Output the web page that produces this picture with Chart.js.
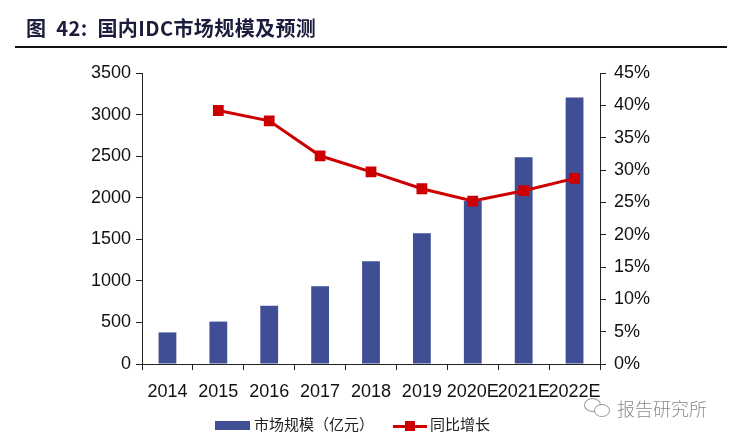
<!DOCTYPE html>
<html>
<head>
<meta charset="utf-8">
<script src="https://cdn.jsdelivr.net/npm/chart.js@4/dist/chart.umd.min.js"></script>
<style>
  body { margin: 0; background: #fff; }
  #wrap { position: relative; width: 730px; height: 439px; overflow: hidden; }
  #title { position: absolute; left: 26px; top: 13px; font-family: "Noto Sans CJK SC", sans-serif; font-weight: bold; font-size: 20px; color: #1c1c3c; letter-spacing: 0.4px; white-space: nowrap; }
  #rule { position: absolute; left: 15px; top: 46px; width: 712px; height: 2px; background: #111; }
  #chartBox { position: absolute; left: 0; top: 0; width: 730px; height: 439px; }
  .lg { position: absolute; top: 413px; font-family: "Noto Sans CJK SC", sans-serif; font-size: 15px; color: #222; white-space: nowrap; }
  #wm { position: absolute; left: 617px; top: 395px; font-family: "Noto Sans CJK SC", sans-serif; font-size: 18px; color: #8a8a8a; font-weight: 300; }
  .bub { position: absolute; border: 1.5px solid #9a9a9a; border-radius: 50%; background: #fff; }
</style>
</head>
<body>
<div id="wrap">
  <div id="chartBox"><canvas id="IdcChart" width="730" height="439"></canvas></div>
  <div id="title">图&nbsp; 42:&nbsp; 国内IDC市场规模及预测</div>
  <div id="rule"></div>
  <!-- chú thích tự vẽ -->
  <div class="lg" style="left:215px;"><span style="display:inline-block;width:35px;height:9px;background:#404e96;vertical-align:middle;margin-right:4px;"></span>市场规模（亿元）</div>
  <div class="lg" style="left:393px;"><span style="display:inline-block;position:relative;width:34px;height:12px;vertical-align:middle;margin-right:3px;"><span style="position:absolute;left:0;top:5px;width:34px;height:3px;background:#cc0000;"></span><span style="position:absolute;left:12px;top:1px;width:10px;height:10px;background:#cc0000;"></span></span>同比增长</div>
  <!-- logo nhỏ -->
  <div class="bub" style="left:584px;top:398px;width:15px;height:12px;"></div>
  <div class="bub" style="left:594px;top:404px;width:14px;height:11px;"></div>
  <div id="wm">报告研究所</div>
</div>
<script>
// nhãn trục x
var years = ['2014', '2015', '2016', '2017', '2018', '2019', '2020E', '2021E', '2022E'];
// quy mô thị trường (亿元)
var marketSize = [380, 510, 700, 935, 1235, 1572, 1960, 2487, 3204];
// tăng trưởng so với năm trước (%)
var growth = [null, 39.2, 37.6, 32.2, 29.7, 27.1, 25.2, 26.8, 28.7];

var tickFont = { family: 'Liberation Sans', size: 18 };

function BuildChart() {
  var ctx = document.getElementById('IdcChart').getContext('2d');
  var myChart = new Chart(ctx, {
    type: 'bar',
    data: {
      labels: years,
      datasets: [{
        type: 'line',
        label: '同比增长',
        data: growth,
        yAxisID: 'y1',
        borderColor: '#cc0000',
        backgroundColor: '#cc0000',
        borderWidth: 3,
        pointStyle: 'rect',
        pointRadius: 5.5,
        pointHoverRadius: 5.5,
        tension: 0,
        order: 0
      }, {
        label: '市场规模（亿元）',
        data: marketSize,
        yAxisID: 'y',
        backgroundColor: '#404e96',
        categoryPercentage: 1,
        barPercentage: 0.35,
        order: 1
      }]
    },
    options: {
      responsive: false,
      animation: false,
      layout: { padding: { top: 73, left: 0, right: 0, bottom: 0 } },
      plugins: {
        legend: { display: false },
        tooltip: { enabled: false }
      },
      scales: {
        x: {
          grid: { display: true, drawOnChartArea: false, tickLength: 6, color: '#222', offset: true },
          border: { color: '#222', width: 1 },
          ticks: { color: '#111', font: tickFont, padding: 11, maxRotation: 0, autoSkip: false },
          afterFit: function (s) { s.height = 75; }
        },
        y: {
          position: 'left',
          min: 0, max: 3500,
          grid: { display: true, drawOnChartArea: false, tickLength: 6, color: '#222' },
          border: { color: '#222', width: 1 },
          ticks: { stepSize: 500, color: '#111', font: tickFont, padding: 5,
            callback: function (v) { return String(v); } },
          afterFit: function (s) { s.width = 142; }
        },
        y1: {
          position: 'right',
          min: 0, max: 45,
          grid: { display: true, drawOnChartArea: false, tickLength: 6, color: '#222' },
          border: { color: '#222', width: 1 },
          ticks: { stepSize: 5, color: '#111', font: tickFont, padding: 8,
            callback: function (v) { return v + '%'; } },
          afterFit: function (s) { s.width = 130; }
        }
      }
    }
  });
  return myChart;
}

BuildChart();
</script>
</body>
</html>
